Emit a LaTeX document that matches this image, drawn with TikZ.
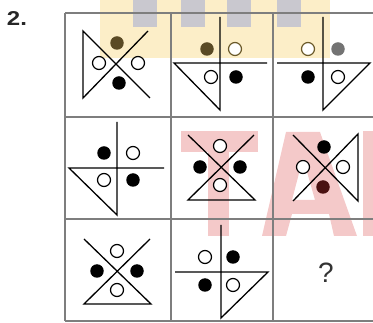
\documentclass[tikz,border=0pt]{standalone}
\usepackage{fontspec}
\setmainfont{Liberation Sans}
\definecolor{wmyellow}{HTML}{FCEEC8}
\definecolor{wmgray}{HTML}{C9C8CF}
\definecolor{wmpink}{HTML}{F4C9C9}
\definecolor{gridgray}{HTML}{7E7E7E}
\definecolor{browndot}{HTML}{5A4A25}
\definecolor{olive}{HTML}{6B5A2A}
\definecolor{reddot}{HTML}{4A1212}
\begin{document}
\begin{tikzpicture}[x=1pt,y=-1pt,
  fig/.style={line width=1.3pt,black,line join=miter},
  gridline/.style={line width=1.4pt,gridgray},
  wc/.style={circle,draw=black,fill=white,line width=1.2pt,minimum size=13pt,inner sep=0pt},
  bc/.style={circle,fill=black,minimum size=13.5pt,inner sep=0pt}]
\useasboundingbox (0,0) rectangle (373,323);
% watermark
\fill[wmyellow] (100,0) rectangle (330,58);
\foreach \a in {133,181,227,277} \fill[wmgray] (\a,0) rectangle (\a+24,27);
\fill[wmpink] (181,131) rectangle (258,152);
\fill[wmpink] (208,152) rectangle (229,236);
\fill[wmpink,even odd rule] (262,236) -- (286,132) -- (320,132) -- (357,236) -- (334,236) -- (329,214) -- (292,214) -- (286,236) -- cycle
  (303,158) -- (292,200) -- (315,200) -- cycle;
\fill[wmpink] (363,131) rectangle (373,236);
% grid
\draw[gridline] (65,13) -- (373,13);
\draw[gridline] (65,117) -- (373,117);
\draw[gridline] (65,219) -- (373,219);
\draw[gridline] (65,321) -- (373,321);
\draw[gridline] (65,13) -- (65,321);
\draw[gridline] (171,13) -- (171,321);
\draw[gridline] (273,13) -- (273,321);
% label
\node[font=\bfseries\fontsize{20}{20}\selectfont,xscale=1.2,text=black!85] (lbl) at (17,19) {2.};
% cell 1
\draw[fig] (148,31) -- (83,98) -- (83,31) -- (150,98);
\node[bc,fill=browndot] (a1) at (117,43) {};
\node[wc] (a2) at (99,63) {};
\node[wc] (a3) at (138,63) {};
\node[bc] (a4) at (119,83) {};
% cell 2
\draw[fig] (220,17) -- (220,110) -- (174,63) -- (267,63);
\node[bc,fill=browndot] (b1) at (207,49) {};
\node[wc,draw=olive] (b2) at (235,49) {};
\node[wc] (b3) at (211,77) {};
\node[bc] (b4) at (236,77) {};
% cell 3
\draw[fig] (323,17) -- (323,110) -- (370,63) -- (277,63);
\node[wc,draw=olive] (c1) at (308,49) {};
\node[bc,fill=black!55] (c2) at (338,49) {};
\node[bc] (c3) at (308,77) {};
\node[wc] (c4) at (338,77) {};
% cell 4
\draw[fig] (117,122) -- (117,215) -- (69,168) -- (164,168);
\node[bc] (d1) at (104,153) {};
\node[wc] (d2) at (133,153) {};
\node[wc] (d3) at (104,180) {};
\node[bc] (d4) at (133,180) {};
% cell 5
\draw[fig] (188,135) -- (255,200) -- (188,200) -- (254,135);
\node[wc] (e1) at (220,146) {};
\node[bc] (e2) at (200,167) {};
\node[bc] (e3) at (240,167) {};
\node[wc] (e4) at (220,185) {};
% cell 6
\draw[fig] (293,135) -- (358,201) -- (358,134) -- (293,201);
\node[bc] (f1) at (324,147) {};
\node[wc] (f2) at (303,167) {};
\node[wc] (f3) at (343,167) {};
\node[bc,fill=reddot] (f4) at (323,187) {};
% cell 7
\draw[fig] (84,239) -- (151,304) -- (84,304) -- (150,239);
\node[wc] (g1) at (117,251) {};
\node[bc] (g2) at (97,271) {};
\node[bc] (g3) at (137,271) {};
\node[wc] (g4) at (117,290) {};
% cell 8
\draw[fig] (221,225) -- (221,318) -- (268,272) -- (175,272);
\node[wc] (h1) at (205,257) {};
\node[bc] (h2) at (233,257) {};
\node[bc] (h3) at (205,285) {};
\node[wc] (h4) at (233,285) {};
% cell 9
\node[font=\fontsize{28}{28}\selectfont,text=black!80] (q) at (326,273) {?};
\end{tikzpicture}
\end{document}
